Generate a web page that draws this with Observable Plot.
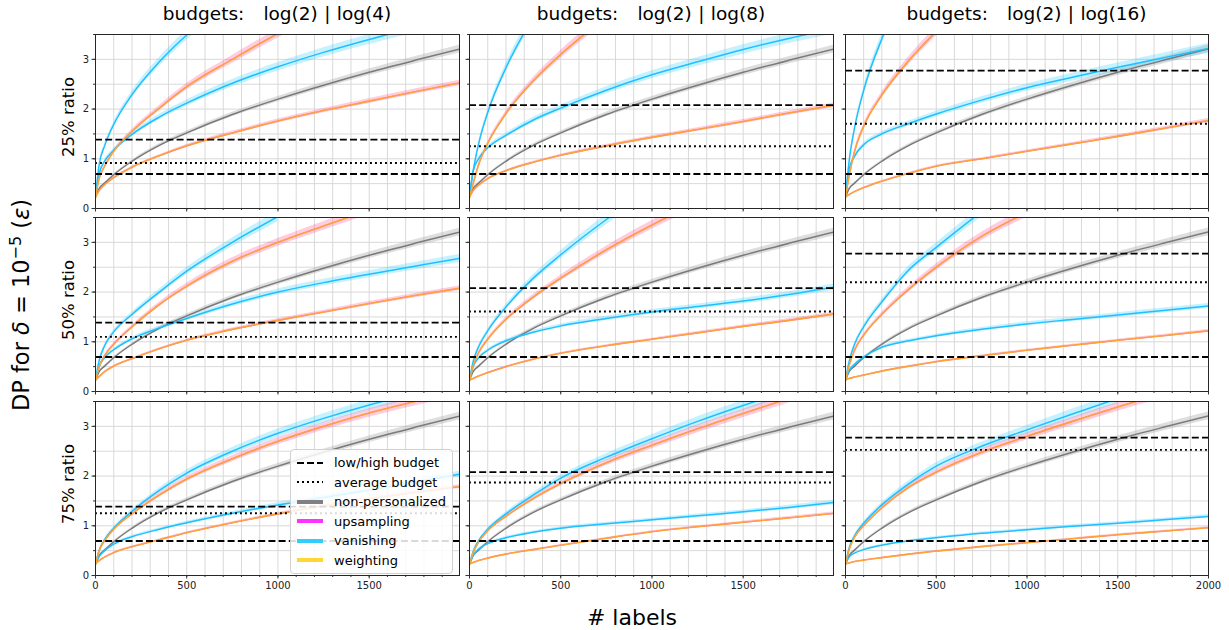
<!DOCTYPE html>
<html><head><meta charset="utf-8">
<script src="https://cdn.jsdelivr.net/npm/d3@7"></script>
<script src="https://cdn.jsdelivr.net/npm/@observablehq/plot@0.6"></script>
<style>
body{margin:0;background:#fff;font-family:"DejaVu Sans",sans-serif;color:#000;}
#wrap{position:relative;width:1229px;height:630px;overflow:hidden;background:#fff;}
.abs{position:absolute;white-space:pre;}
.legend{position:absolute;background:rgba(255,255,255,0.85);border:1px solid #d0d0d0;border-radius:4px;padding:3px 6px 3px 5px;font-size:13px;}
.legend .row{display:flex;align-items:center;height:19.5px;}
.legend svg{margin-right:10px;}
</style></head>
<body><div id="wrap"></div>
<script>
// ---------------- data ----------------
const columnTitles = ["budgets:   log(2) | log(4)", "budgets:   log(2) | log(8)", "budgets:   log(2) | log(16)"];
const rowLabels = ["25% ratio", "50% ratio", "75% ratio"];
const xLabel = "# labels";
const xs = [0, 20, 50, 100, 200, 350, 500, 750, 1000, 1250, 1500, 1750, 2000];
const xTickLabels = [0, 500, 1000, 1500, 2000];
const yTickLabels = [0, 1, 2, 3];

// budget lines (epsilon)
const lowBudget = [0.693, 0.693, 0.693];          // per column
const highBudget = [1.386, 2.079, 2.773];         // per column
const averageBudget = [                            // [row][column]
  [0.916, 1.253, 1.705],
  [1.099, 1.609, 2.197],
  [1.253, 1.872, 2.526]
];

// non-personalized (same in every panel)
const nonPersonalized = [0.23, 0.4, 0.51, 0.68, 0.95, 1.27, 1.52, 1.89, 2.2, 2.48, 2.74, 2.98, 3.21];

// panels in row-major order: r1c1, r1c2, r1c3, r2c1, ...
const vanishingHigh = [
  [0.23, 0.88, 1.26, 1.69, 2.29, 2.95, 3.49, 4.2, null, null, null, null, null],
  [0.23, 0.75, 1.3, 1.93, 2.83, 3.85, null, null, null, null, null, null, null],
  [0.23, 0.95, 1.62, 2.37, 3.41, 4.5, null, null, null, null, null, null, null],
  [0.23, 0.62, 0.92, 1.2, 1.55, 2.0, 2.42, 3.0, 3.52, null, null, null, null],
  [0.23, 0.6, 0.9, 1.22, 1.7, 2.28, 2.75, 3.46, 4.1, null, null, null, null],
  [0.23, 0.6, 0.95, 1.3, 1.8, 2.45, 2.9, 3.62, null, null, null, null, null],
  [0.23, 0.5, 0.72, 0.95, 1.29, 1.71, 2.06, 2.5, 2.86, 3.16, 3.43, 3.67, null],
  [0.23, 0.48, 0.7, 0.93, 1.24, 1.62, 1.96, 2.38, 2.75, 3.1, 3.42, 3.72, null],
  [0.23, 0.55, 0.8, 1.05, 1.42, 1.85, 2.2, 2.6, 2.93, 3.25, 3.56, null, null]
];
const vanishingLow = [
  [0.23, 0.7, 0.95, 1.17, 1.49, 1.84, 2.12, 2.52, 2.85, 3.14, 3.4, 3.64, null],
  [0.23, 0.75, 1.0, 1.22, 1.47, 1.78, 2.02, 2.38, 2.69, 2.95, 3.2, 3.42, 3.62],
  [0.23, 0.78, 1.05, 1.28, 1.5, 1.71, 1.9, 2.18, 2.43, 2.64, 2.84, 3.03, 3.22],
  [0.23, 0.5, 0.68, 0.84, 1.06, 1.28, 1.47, 1.76, 2.0, 2.19, 2.36, 2.52, 2.68],
  [0.23, 0.5, 0.68, 0.83, 1.02, 1.19, 1.32, 1.47, 1.6, 1.71, 1.82, 1.95, 2.1],
  [0.23, 0.42, 0.55, 0.69, 0.89, 1.02, 1.12, 1.25, 1.36, 1.45, 1.54, 1.63, 1.72],
  [0.23, 0.38, 0.5, 0.63, 0.78, 0.93, 1.06, 1.25, 1.42, 1.57, 1.72, 1.88, 2.04],
  [0.23, 0.4, 0.53, 0.64, 0.76, 0.87, 0.95, 1.04, 1.12, 1.2, 1.28, 1.37, 1.47],
  [0.23, 0.37, 0.45, 0.52, 0.61, 0.7, 0.76, 0.85, 0.92, 0.99, 1.05, 1.12, 1.19]
];
const upsamplingHigh = [
  [0.23, 0.6, 0.85, 1.15, 1.55, 2.02, 2.45, 3.0, 3.52, 4.0, null, null, null],
  [0.23, 0.5, 0.88, 1.31, 1.91, 2.57, 3.1, 3.85, null, null, null, null, null],
  [0.23, 0.65, 1.15, 1.65, 2.28, 2.98, 3.56, null, null, null, null, null, null],
  [0.23, 0.5, 0.72, 0.95, 1.3, 1.75, 2.12, 2.62, 3.0, 3.33, 3.65, null, null],
  [0.23, 0.52, 0.78, 1.05, 1.45, 1.9, 2.28, 2.85, 3.35, 3.8, null, null, null],
  [0.23, 0.52, 0.83, 1.13, 1.55, 2.06, 2.5, 3.12, 3.6, null, null, null, null],
  [0.23, 0.5, 0.7, 0.93, 1.24, 1.62, 1.94, 2.35, 2.7, 3.0, 3.27, 3.5, 3.72],
  [0.23, 0.46, 0.67, 0.9, 1.19, 1.55, 1.85, 2.27, 2.62, 2.95, 3.26, 3.56, null],
  [0.23, 0.52, 0.77, 1.0, 1.36, 1.78, 2.08, 2.48, 2.8, 3.1, 3.39, 3.66, null]
];
const upsamplingLow = [
  [0.23, 0.36, 0.48, 0.62, 0.83, 1.06, 1.26, 1.52, 1.76, 1.97, 2.16, 2.35, 2.53],
  [0.23, 0.36, 0.47, 0.6, 0.76, 0.93, 1.07, 1.26, 1.43, 1.59, 1.75, 1.92, 2.08],
  [0.23, 0.28, 0.34, 0.42, 0.55, 0.71, 0.85, 1.0, 1.15, 1.3, 1.45, 1.61, 1.77],
  [0.23, 0.3, 0.4, 0.51, 0.66, 0.86, 1.03, 1.25, 1.43, 1.6, 1.77, 1.93, 2.08],
  [0.23, 0.26, 0.31, 0.38, 0.5, 0.65, 0.77, 0.92, 1.05, 1.18, 1.31, 1.43, 1.56],
  [0.23, 0.26, 0.29, 0.33, 0.41, 0.51, 0.6, 0.72, 0.83, 0.93, 1.03, 1.12, 1.22],
  [0.23, 0.3, 0.37, 0.46, 0.58, 0.72, 0.86, 1.06, 1.24, 1.4, 1.54, 1.67, 1.79],
  [0.23, 0.26, 0.3, 0.35, 0.43, 0.52, 0.61, 0.75, 0.88, 0.98, 1.07, 1.16, 1.25],
  [0.23, 0.25, 0.28, 0.31, 0.36, 0.43, 0.49, 0.58, 0.66, 0.74, 0.82, 0.89, 0.96]
];
// weighting lies on top of upsampling in every panel (indistinguishable in the picture)
const weightingHigh = upsamplingHigh;
const weightingLow = upsamplingLow;

const legendItems = [
  {label: "low/high budget", kind: "dashed", color: "#000"},
  {label: "average budget", kind: "dotted", color: "#000"},
  {label: "non-personalized", kind: "solid", color: "#808080"},
  {label: "upsampling", kind: "solid", color: "#ff33ff"},
  {label: "vanishing", kind: "solid", color: "#33ccff"},
  {label: "weighting", kind: "solid", color: "#ffd633"}
];

// ---------------- layout ----------------
const wrap = document.getElementById("wrap");
const colLeft = [95, 469, 845];
const colWidth = [364, 364, 363];
const xMax = [1995, 1995, 2000];
const rowTop = [34, 217, 401];
const rowHeight = 174;
const mL = 30, mR = 8, mT = 8, mB = 22;
const xMinor = d3.range(0, 2001, 100);
const yMinor = d3.range(0, 3.51, 0.5);
const font = "DejaVu Sans";

function seriesRows(vals, key) {
  return xs.map((x, k) => ({x, y: vals[k], key}));
}

for (let r = 0; r < 3; r++) {
  for (let c = 0; c < 3; c++) {
    const i = r * 3 + c;
    const series = [
      {data: seriesRows(nonPersonalized, "np"), line: "#7a7a7a", band: "#a8a8a8", bandOp: 0.38, spread: 0.024, lineOp: 1, w: 1.5},
      {data: seriesRows(upsamplingHigh[i], "uh"), line: "#ff33ff", band: "#ff40ff", bandOp: 0.16, spread: 0.026, lineOp: 0.8, w: 1.1},
      {data: seriesRows(upsamplingLow[i], "ul"), line: "#ff33ff", band: "#ff40ff", bandOp: 0.16, spread: 0.022, lineOp: 0.8, w: 1.1},
      {data: seriesRows(vanishingHigh[i], "vh"), line: "#1ec0ff", band: "#33ccff", bandOp: 0.28, spread: 0.03, lineOp: 1, w: 1.5},
      {data: seriesRows(vanishingLow[i], "vl"), line: "#1ec0ff", band: "#33ccff", bandOp: 0.28, spread: 0.03, lineOp: 1, w: 1.5},
      {data: seriesRows(weightingHigh[i], "wh"), line: "#ffa52e", band: "#ff6a3a", bandOp: 0.16, spread: 0.026, lineOp: 0.95, w: 1.6},
      {data: seriesRows(weightingLow[i], "wl"), line: "#ffa52e", band: "#ff6a3a", bandOp: 0.16, spread: 0.022, lineOp: 0.95, w: 1.6}
    ];
    const marks = [
      Plot.gridX(xMinor.filter(v => v <= xMax[c]), {stroke: "#d9d9d9", strokeOpacity: 1, strokeWidth: 1}),
      Plot.gridY(yMinor, {stroke: "#d9d9d9", strokeOpacity: 1, strokeWidth: 1})
    ];
    for (const s of series) {
      marks.push(Plot.areaY(s.data, {
        x: "x",
        y1: d => d.y == null ? NaN : d.y * (1 - s.spread),
        y2: d => d.y == null ? NaN : d.y * (1 + s.spread),
        fill: s.band, fillOpacity: s.bandOp, curve: "monotone-x", clip: true
      }));
    }
    for (const s of series) {
      marks.push(Plot.line(s.data, {
        x: "x", y: "y", stroke: s.line, strokeOpacity: s.lineOp, strokeWidth: s.w,
        curve: "monotone-x", clip: true
      }));
    }
    marks.push(
      Plot.ruleY([lowBudget[c], highBudget[c]], {stroke: "#000", strokeWidth: 1.9, strokeDasharray: "7,3.2"}),
      Plot.ruleY([averageBudget[r][c]], {stroke: "#000", strokeWidth: 1.9, strokeDasharray: "1.9,3.1"}),
      Plot.frame({stroke: "#262626", strokeWidth: 1}),
      Plot.axisX(xMinor.filter(v => v <= xMax[c]), {tickSize: 2, tickFormat: () => "", label: null, stroke: "#333"}),
      Plot.axisX(xTickLabels.filter(v => v <= xMax[c]), {
        tickSize: 3.5, tickPadding: 2.5, label: null, stroke: "#333",
        tickFormat: r === 2 ? (d => String(d)) : (() => ""), fill: "#222"
      }),
      Plot.axisY(yMinor, {tickSize: 2, tickFormat: () => "", label: null, stroke: "#333"}),
      Plot.axisY(yTickLabels, {
        tickSize: 3.5, tickPadding: 3, label: null, stroke: "#333",
        tickFormat: c === 0 ? (d => String(d)) : (() => ""), fill: "#222"
      })
    );
    const chart = Plot.plot({
      width: colWidth[c] + mL + mR,
      height: rowHeight + mT + mB,
      marginLeft: mL, marginRight: mR, marginTop: mT, marginBottom: mB,
      x: {domain: [0, xMax[c]]},
      y: {domain: [0, 3.5]},
      style: {background: "transparent", overflow: "visible", fontFamily: font, fontSize: "10px"},
      marks
    });
    chart.style.position = "absolute";
    chart.style.left = (colLeft[c] - mL) + "px";
    chart.style.top = (rowTop[r] - mT) + "px";
    wrap.appendChild(chart);
  }
}

// column titles
columnTitles.forEach((t, c) => {
  const d = document.createElement("div");
  d.className = "abs";
  d.textContent = t;
  d.style.fontSize = "18.5px";
  d.style.wordSpacing = "0.5px";
  d.style.left = (colLeft[c] + colWidth[c] / 2) + "px";
  d.style.top = "3px";
  d.style.transform = "translateX(-50%)";
  wrap.appendChild(d);
});

// row labels
rowLabels.forEach((t, r) => {
  const d = document.createElement("div");
  d.className = "abs";
  d.textContent = t;
  d.style.fontSize = "16.5px";
  d.style.left = "68px";
  d.style.top = (rowTop[r] + rowHeight / 2 - 4) + "px";
  d.style.transform = "translate(-50%,-50%) rotate(-90deg)";
  wrap.appendChild(d);
});

// y label
{
  const d = document.createElement("div");
  d.className = "abs";
  d.innerHTML = 'DP for <i>δ</i> = 10<sup style="font-size:16px;line-height:0">−5</sup> (<i>ε</i>)';
  d.style.fontSize = "22.5px";
  d.style.left = "21px";
  d.style.top = "305px";
  d.style.transform = "translate(-50%,-50%) rotate(-90deg)";
  wrap.appendChild(d);
}
// x label
{
  const d = document.createElement("div");
  d.className = "abs";
  d.textContent = xLabel;
  d.style.fontSize = "22px";
  d.style.left = "632px";
  d.style.top = "617px";
  d.style.transform = "translate(-50%,-50%)";
  wrap.appendChild(d);
}

// legend
{
  const lg = document.createElement("div");
  lg.className = "legend";
  lg.style.left = "290px";
  lg.style.top = "449px";
  for (const it of legendItems) {
    const row = document.createElement("div");
    row.className = "row";
    let dash = "", w = 4;
    if (it.kind === "dashed") { dash = "7,3"; w = 2; }
    if (it.kind === "dotted") { dash = "2,3"; w = 2; }
    row.innerHTML = `<svg width="28" height="10"><line x1="1" x2="27" y1="5" y2="5" stroke="${it.color}" stroke-width="${w}" ${dash ? `stroke-dasharray="${dash}"` : ""}/></svg><span>${it.label}</span>`;
    lg.appendChild(row);
  }
  wrap.appendChild(lg);
}
</script>
</body></html>
